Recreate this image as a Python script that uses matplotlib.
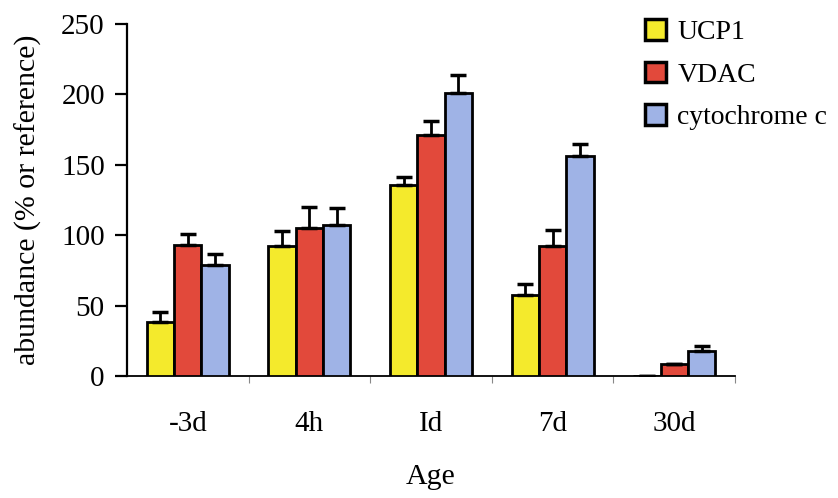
import numpy as np
import matplotlib
matplotlib.use('Agg')
import matplotlib.pyplot as plt
from matplotlib.ticker import FixedLocator

plt.rcParams['font.family'] = ['Liberation Serif', 'DejaVu Serif']

ages = ['-3d', '4h', 'Id', '7d', '30d']
ucp1 = [38.6, 92, 136, 57.6, 0]
ucp1_err = [7, 11, 5, 8, 0]
vdac = [93, 105, 171, 92.5, 8.5]
vdac_err = [8, 15, 10, 11, 0]
cytc = [79, 107.5, 201, 156.5, 18]
cytc_err = [8, 12, 13, 8.5, 3.5]
series = ['UCP1', 'VDAC', 'cytochrome c']
colors = ['#f4ea2c', '#e2493b', '#9fb3e6']

fig = plt.figure(figsize=(8.38, 4.98), dpi=100)
ax = fig.add_axes([127/838, 1-376/498, 608/838, 352/498])

x = np.arange(len(ages))
w = 0.225
handles = []
for k, (vals, errs) in enumerate([(ucp1, ucp1_err), (vdac, vdac_err), (cytc, cytc_err)]):
    b = ax.bar(x + (k-1)*w, vals, w, color=colors[k], edgecolor='black', linewidth=2.0,
               yerr=[np.zeros(len(errs)), errs], capsize=6,
               error_kw=dict(ecolor='black', elinewidth=2.0, capthick=2.5), label=series[k], zorder=3)
    handles.append(b)

ax.set_xlim(-0.5, 4.5)
ax.set_ylim(0, 250)
ax.set_yticks([0, 50, 100, 150, 200, 250])
ax.spines['top'].set_visible(False)
ax.spines['right'].set_visible(False)
ax.spines['left'].set_linewidth(1.6)
ax.spines['bottom'].set_linewidth(1.3)
ax.tick_params(axis='y', direction='out', length=9, width=1.6, labelsize=21, pad=7)
ax.set_xticks(x)
ax.set_xticklabels(ages)
ax.tick_params(axis='x', which='major', length=0, labelsize=21, pad=25)
ax.xaxis.set_minor_locator(FixedLocator([0.5, 1.5, 2.5, 3.5, 4.5]))
ax.tick_params(axis='x', which='minor', length=5, width=0.8, color='#888888')

ax.set_ylabel('abundance (% or reference)', fontsize=21.5)
ax.yaxis.set_label_coords(-0.14, 0.5)
ax.set_xlabel('Age', fontsize=21.5)
ax.xaxis.set_label_coords(0.5, -0.25)

leg = ax.legend(handles=handles, labels=series, loc='upper left',
                bbox_to_anchor=(626/838, 1.0), bbox_transform=fig.transFigure,
                frameon=False, fontsize=20, handlelength=0.75, handleheight=0.75,
                handletextpad=0.4, labelspacing=0.6, borderaxespad=0.3)
for h in leg.legend_handles:
    h.set_linewidth(2.5)

fig.savefig('out.png', dpi=100)
